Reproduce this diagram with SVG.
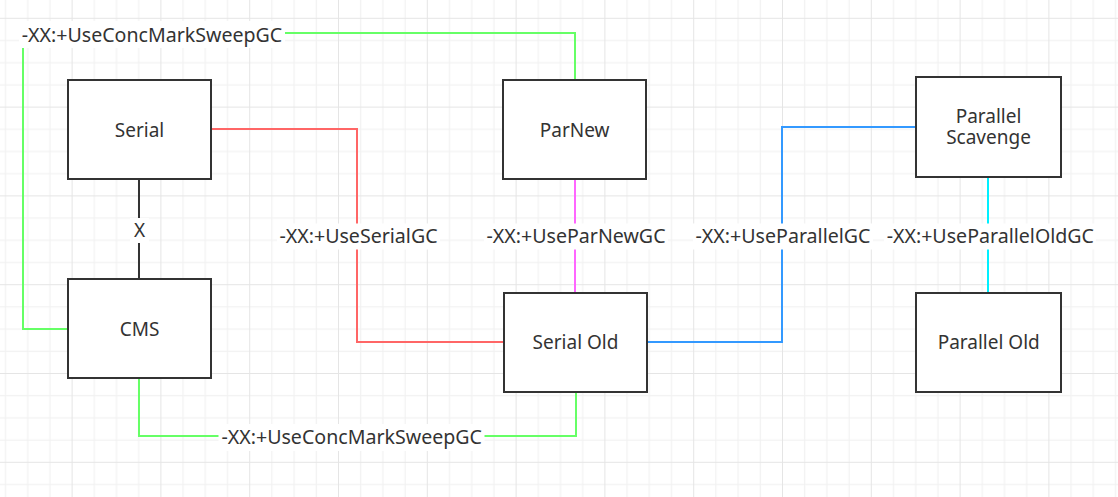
<svg xmlns="http://www.w3.org/2000/svg" width="1118" height="497" viewBox="0 0 1118 497">
<style>
.box{fill:#fff;stroke:#333;stroke-width:2}
.t{font-family:"Noto Sans","Open Sans",sans-serif;font-size:19px;fill:#333;text-anchor:middle}
.l{font-size:19.6px}
.c{fill:none;stroke-width:2}
.bg{fill:#fff}
</style>
<defs>
<pattern id="grid" patternUnits="userSpaceOnUse" x="71.6" y="17.8" width="88.8" height="88.8">
<rect x="22.2" y="0" width="1" height="88.8" fill="#f0f0f0"/>
<rect x="44.4" y="0" width="1" height="88.8" fill="#f0f0f0"/>
<rect x="66.6" y="0" width="1" height="88.8" fill="#f0f0f0"/>
<rect x="0" y="22.2" width="88.8" height="1" fill="#f0f0f0"/>
<rect x="0" y="44.4" width="88.8" height="1" fill="#f0f0f0"/>
<rect x="0" y="66.6" width="88.8" height="1" fill="#f0f0f0"/>
<rect x="0" y="0" width="1" height="88.8" fill="#e5e5e5"/>
<rect x="0" y="0" width="88.8" height="1" fill="#e5e5e5"/>
</pattern>
</defs>
<rect width="1118" height="497" fill="#fff"/>
<rect width="1118" height="497" fill="url(#grid)"/>
<g id="connectors">
<path class="c" stroke="#66ff66" d="M575 79V33H23V329H67"/>
<path class="c" stroke="#ff6666" d="M212 129H357V342H504"/>
<path class="c" stroke="#333" d="M139 180V279"/>
<path class="c" stroke="#ff66ff" d="M575 180V293"/>
<path class="c" stroke="#3399ff" d="M647 342H782V127H916"/>
<path class="c" stroke="#00f0ff" d="M988 177V293"/>
<path class="c" stroke="#66ff66" d="M139 379V436H576V392"/>
<rect class="bg" x="19" y="21" width="266" height="27"/>
<text class="t l" x="152" y="41.5">-XX:+UseConcMarkSweepGC</text>
<rect class="bg" x="130" y="218" width="19" height="25"/>
<text class="t" x="139.5" y="236.5">X</text>
<rect class="bg" x="277" y="223.5" width="163" height="26"/>
<text class="t l" x="358.5" y="243.3">-XX:+UseSerialGC</text>
<rect class="bg" x="484" y="223.5" width="184" height="26"/>
<text class="t l" x="576" y="243.3">-XX:+UseParNewGC</text>
<rect class="bg" x="693" y="223.5" width="180" height="26"/>
<text class="t l" x="783" y="243.3">-XX:+UseParallelGC</text>
<rect class="bg" x="884" y="223.5" width="212" height="26"/>
<text class="t l" x="990.3" y="243.3">-XX:+UseParallelOldGC</text>
<rect class="bg" x="218.5" y="424" width="266" height="27"/>
<text class="t l" x="351.7" y="444">-XX:+UseConcMarkSweepGC</text>
</g>
<g id="serial">
<rect class="box" x="68" y="80" width="143" height="99"/>
<text class="t" x="139.5" y="136.5">Serial</text>
</g>
<g id="cms">
<rect class="box" x="68" y="279" width="143" height="99"/>
<text class="t" x="139.5" y="335.7">CMS</text>
</g>
<g id="parnew">
<rect class="box" x="503" y="80" width="143" height="99"/>
<text class="t" x="574.7" y="136.5">ParNew</text>
</g>
<g id="serial-old">
<rect class="box" x="504" y="293" width="143" height="99"/>
<text class="t" x="575.5" y="349.4">Serial Old</text>
</g>
<g id="parallel-scavenge">
<rect class="box" x="916" y="77" width="145" height="100"/>
<text class="t"><tspan x="988.5" y="123.4">Parallel</tspan><tspan x="988.5" y="144.4">Scavenge</tspan></text>
</g>
<g id="parallel-old">
<rect class="box" x="916" y="293" width="145" height="99"/>
<text class="t" x="988.7" y="349.4">Parallel Old</text>
</g>
</svg>
